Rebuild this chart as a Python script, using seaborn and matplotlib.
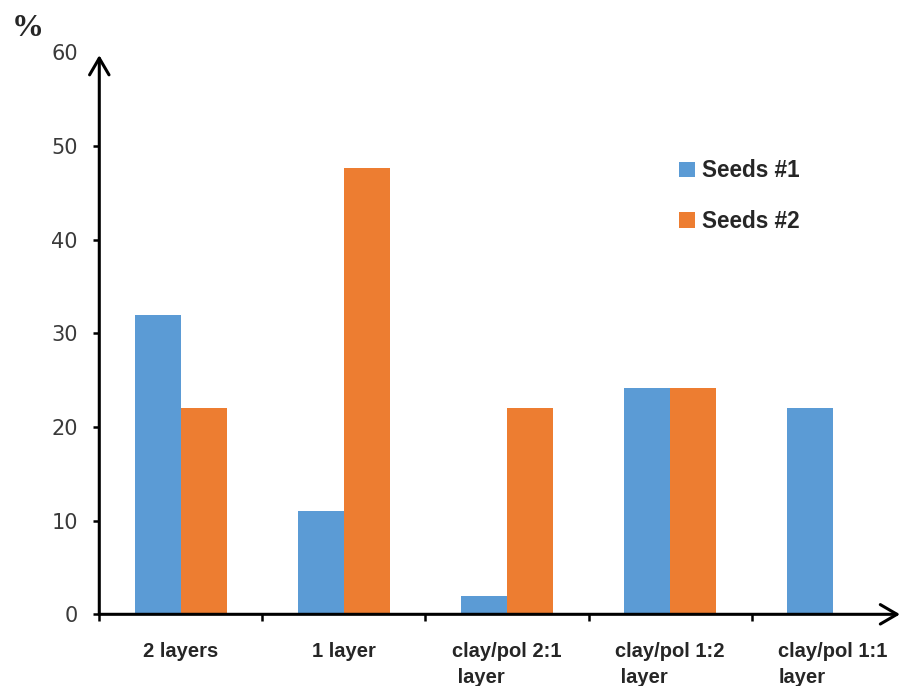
import matplotlib
matplotlib.use('Agg')
import matplotlib.pyplot as plt
import seaborn as sb
import pandas as pd

categories = ['2 layers', '1 layer', 'clay/pol 2:1\n layer', 'clay/pol 1:2\n layer', 'clay/pol 1:1\nlayer']
seeds1 = [32.0, 11.0, 2.0, 24.2, 22.0]
seeds2 = [22.0, 47.7, 22.0, 24.2, 0.0]
series_names = ['Seeds #1', 'Seeds #2']
colors = ['#5B9BD5', '#ED7D31']
yticks = [0, 10, 20, 30, 40, 50, 60]

df = pd.DataFrame({
    'category': categories * 2,
    'series': [series_names[0]] * len(categories) + [series_names[1]] * len(categories),
    'value': seeds1 + seeds2,
})

sb.set_style('white')
plt.rcParams['font.family'] = ['DejaVu Sans']

fig = plt.figure(figsize=(9.01, 6.86), dpi=100)
ax = fig.add_axes([0.1102, 0.1045, 0.8887, 0.8192])

sb.barplot(data=df, x='category', y='value', hue='series', order=categories,
           hue_order=series_names, palette=colors, saturation=1, width=0.565,
           ax=ax, errorbar=None, linewidth=0)

ax.set_xlim(-0.5, 4.41)
ax.set_ylim(0, 60)
ax.set_xlabel('')
ax.set_ylabel('')
for s in ax.spines.values():
    s.set_visible(False)

# axis arrows
arrow = dict(arrowstyle='->,head_length=0.6,head_width=0.35', lw=2.2, color='black',
             shrinkA=0, shrinkB=0, mutation_scale=20)
ax.annotate('', xy=(0, 0.995), xytext=(0, 0), xycoords='axes fraction', arrowprops=arrow)
ax.annotate('', xy=(1.0, 0), xytext=(0, 0), xycoords='axes fraction', arrowprops=arrow)

ax.set_yticks(yticks)
ax.set_yticklabels([str(v) for v in yticks])
ax.tick_params(axis='y', direction='out', length=4.5, width=1.8, pad=11,
               labelsize=15, labelcolor='#3a3a3a', left=True, color='black')
ax.yaxis.get_major_ticks()[-1].tick1line.set_visible(False)

ax.set_xticks(range(len(categories)))
ax.set_xticklabels(categories, fontsize=14.5, fontweight='bold',
                   family='Liberation Sans', multialignment='left', linespacing=1.45)
ax.set_xticks([-0.5, 0.5, 1.5, 2.5, 3.5], minor=True)
ax.tick_params(axis='x', which='major', length=0, pad=20)
ax.tick_params(axis='x', which='minor', direction='out', length=5, width=1.8,
               bottom=True, color='black')

leg = ax.legend(loc='upper left', bbox_to_anchor=(659 / 901, 1 - 139 / 686),
                bbox_transform=fig.transFigure, frameon=False,
                handlelength=0.7, handleheight=0.7, handletextpad=0.3,
                labelspacing=1.2, prop={'family': 'Liberation Sans', 'weight': 'bold', 'size': 16.3})

fig.text(28 / 901, 1 - 28 / 686, '%', fontsize=23, fontweight='bold',
         family='Liberation Serif', ha='center', va='center')

fig.savefig('out.png', dpi=100)
